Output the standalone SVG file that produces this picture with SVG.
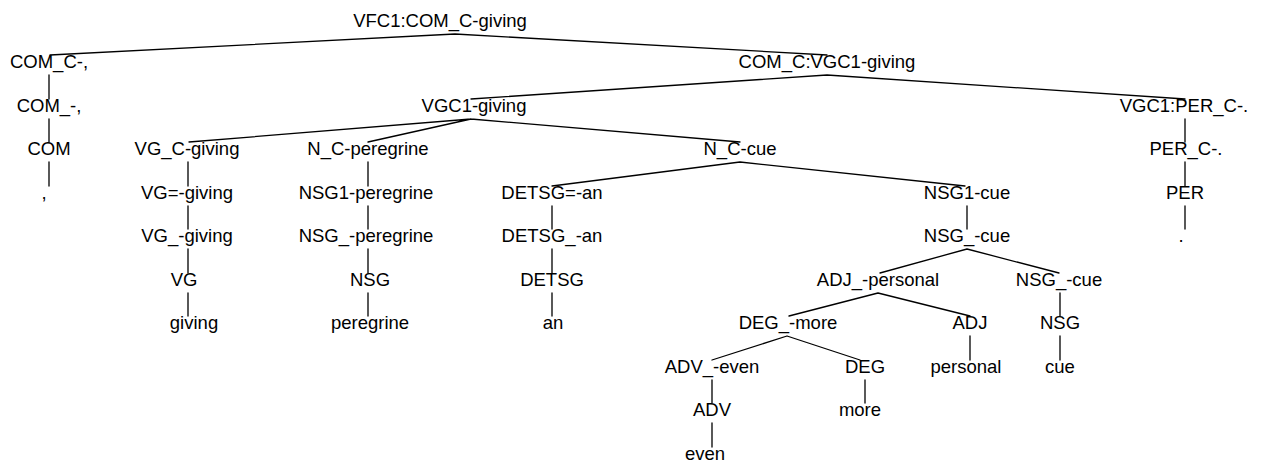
<svg xmlns="http://www.w3.org/2000/svg" width="1262" height="469" viewBox="0 0 1262 469">
<style>
text{font-family:"Liberation Sans",Arial,Helvetica,sans-serif;font-size:18.5px;text-anchor:middle;fill:#000}
.e{stroke:#000;stroke-width:1.3;fill:none;stroke-linecap:round}
</style>
<rect width="1262" height="469" fill="#fff"/>
<g id="connectors">
<path class="e" d="M455,34L50,55M455,34L827,55"/>
<path class="e" d="M827,75L471,99M827,75L1185,99"/>
<path class="e" d="M49,75V99M49,119V142M49,162V186"/>
<path class="e" d="M1185,119V142M1185,162V186M1185,206V229"/>
<path class="e" d="M471,119L189,142M471,119L368,142M471,119L740,142"/>
<path class="e" d="M188,162V186M188,206V229M188,249V273M188,293V316"/>
<path class="e" d="M368,162V186M368,206V229M368,249V273M368,293V316"/>
<path class="e" d="M740,162L552,186M740,162L965,186"/>
<path class="e" d="M552,206V229M552,249V273M552,293V316"/>
<path class="e" d="M967,206V229"/>
<path class="e" d="M967,249L880,273M967,249L1059,273"/>
<path class="e" d="M1060,293V316M1060,336V360"/>
<path class="e" d="M878,293L789,316M878,293L970,316"/>
<path class="e" d="M970,336V360"/>
<path class="e" d="M787,336L712,360M787,336L860,360"/>
<path class="e" d="M712,380V403M712,423V447"/>
<path class="e" d="M865,380V403"/>
</g>
<g id="n0"><text x="440" y="27">VFC1:COM_C-giving</text></g>
<g id="n1"><text x="49" y="68">COM_C-,</text></g>
<g id="n2"><text x="827" y="68">COM_C:VGC1-giving</text></g>
<g id="n3"><text x="49" y="112">COM_-,</text></g>
<g id="n4"><text x="474" y="112">VGC1-giving</text></g>
<g id="n5"><text x="1184" y="112">VGC1:PER_C-.</text></g>
<g id="n6"><text x="49" y="155">COM</text></g>
<g id="n7"><text x="187" y="155">VG_C-giving</text></g>
<g id="n8"><text x="368" y="155">N_C-peregrine</text></g>
<g id="n9"><text x="740" y="155">N_C-cue</text></g>
<g id="n10"><text x="1186" y="155">PER_C-.</text></g>
<g id="n11"><text x="44" y="199">,</text></g>
<g id="n12"><text x="187" y="199">VG=-giving</text></g>
<g id="n13"><text x="366" y="199">NSG1-peregrine</text></g>
<g id="n14"><text x="552" y="199">DETSG=-an</text></g>
<g id="n15"><text x="967" y="199">NSG1-cue</text></g>
<g id="n16"><text x="1185" y="199">PER</text></g>
<g id="n17"><text x="187" y="242">VG_-giving</text></g>
<g id="n18"><text x="366" y="242">NSG_-peregrine</text></g>
<g id="n19"><text x="552" y="242">DETSG_-an</text></g>
<g id="n20"><text x="967" y="242">NSG_-cue</text></g>
<g id="n21"><text x="1181" y="242">.</text></g>
<g id="n22"><text x="184" y="286">VG</text></g>
<g id="n23"><text x="370" y="286">NSG</text></g>
<g id="n24"><text x="552" y="286">DETSG</text></g>
<g id="n25"><text x="878" y="286">ADJ_-personal</text></g>
<g id="n26"><text x="1059" y="286">NSG_-cue</text></g>
<g id="n27"><text x="194" y="329">giving</text></g>
<g id="n28"><text x="370" y="329">peregrine</text></g>
<g id="n29"><text x="553" y="329">an</text></g>
<g id="n30"><text x="788" y="329">DEG_-more</text></g>
<g id="n31"><text x="970" y="329">ADJ</text></g>
<g id="n32"><text x="1060" y="329">NSG</text></g>
<g id="n33"><text x="712" y="373">ADV_-even</text></g>
<g id="n34"><text x="865" y="373">DEG</text></g>
<g id="n35"><text x="966" y="373">personal</text></g>
<g id="n36"><text x="1060" y="373">cue</text></g>
<g id="n37"><text x="712" y="416">ADV</text></g>
<g id="n38"><text x="860" y="416">more</text></g>
<g id="n39"><text x="705" y="460">even</text></g>
</svg>
